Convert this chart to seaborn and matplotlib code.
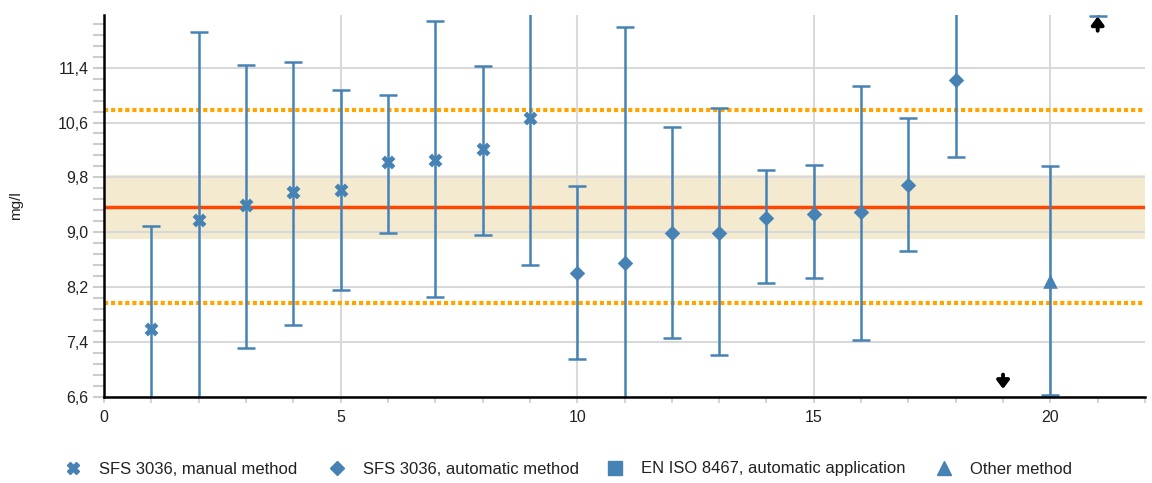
import numpy as np
import pandas as pd
import matplotlib
matplotlib.use("Agg")
import matplotlib.pyplot as plt
import seaborn as sns
from matplotlib.lines import Line2D
from matplotlib.ticker import MultipleLocator, FixedLocator

sns.set_theme(style="white")
plt.rcParams['font.family'] = ['Liberation Sans', 'DejaVu Sans']

# ---- data ----
lab_ids = [1, 2, 3, 4, 5, 6, 7, 8, 9, 10, 11, 12, 13, 14, 15, 16, 17, 18, 20]
values = [7.59, 9.17, 9.39, 9.59, 9.62, 10.02, 10.06, 10.21, 10.66,
          8.41, 8.55, 8.98, 8.99, 9.20, 9.27, 9.30, 9.69, 11.22, 8.28]
lower = [6.0, 6.0, 7.31, 7.65, 8.16, 8.99, 8.06, 8.96, 8.52,
         7.15, 6.0, 7.46, 7.21, 8.26, 8.33, 7.43, 8.73, 10.10, 6.62]
upper = [9.09, 11.92, 11.44, 11.49, 11.07, 11.0, 12.08, 11.42, 12.6,
         9.68, 11.99, 10.53, 10.81, 9.90, 9.98, 11.13, 10.66, 12.6, 9.97]
methods = ["SFS 3036, manual method"] * 9 + ["SFS 3036, automatic method"] * 9 + ["Other method"]

# out-of-range results
below_ids = [19]
above_ids = [21]
above_lower = [12.16]

assigned_value = 9.37
band_half = 0.47
limit_half = 1.41

method_order = ["SFS 3036, manual method", "SFS 3036, automatic method",
                "EN ISO 8467, automatic application", "Other method"]
method_markers = {"SFS 3036, manual method": "X",
                  "SFS 3036, automatic method": "D",
                  "EN ISO 8467, automatic application": "s",
                  "Other method": "^"}
method_sizes = {"SFS 3036, manual method": 100,
                "SFS 3036, automatic method": 62,
                "EN ISO 8467, automatic application": 80,
                "Other method": 110}

color = "#4682b4"
ymin, ymax = 6.6, 12.17
FS = 11.5
W, H = 1152, 483

df = pd.DataFrame({"lab": lab_ids, "value": values, "low": lower,
                   "high": upper, "method": methods})

fig = plt.figure(figsize=(W / 100, H / 100), dpi=100)
ax = fig.add_axes([104 / W, 1 - 396.5 / H, (1145 - 104) / W, (396.5 - 15) / H])

# band and reference lines
ax.axhspan(assigned_value - band_half, assigned_value + band_half, color="#f3ead0", zorder=0.5, lw=0)
ax.axhline(assigned_value, color="#ff4500", lw=2.5, zorder=1)
for s in (-1, 1):
    ax.axhline(assigned_value + s * limit_half, color="#ffa500", lw=3,
               linestyle=(0, (1, 0.7)), zorder=1)

# error bars
ax.errorbar(df["lab"], df["value"],
            yerr=[df["value"] - df["low"], df["high"] - df["value"]],
            fmt="none", ecolor=color, elinewidth=1.8, capsize=6.5, capthick=1.8, zorder=2)
# error bar of the result above range (only its lower end is visible)
ax.errorbar(above_ids, [13.0], yerr=[[13.0 - above_lower[0]], [0]],
            fmt="none", ecolor=color, elinewidth=1.8, capsize=6.5, capthick=1.8, zorder=2)

# markers
for m in method_order:
    sub = df[df["method"] == m]
    if len(sub) == 0:
        continue
    sns.scatterplot(data=sub, x="lab", y="value", marker=method_markers[m],
                    color=color, s=method_sizes[m], edgecolor=color,
                    linewidth=0, legend=False, ax=ax, zorder=3)

# arrows for out-of-range results
astyle = dict(arrowstyle="-|>,head_width=0.3,head_length=0.4", color="black", lw=2.8,
              shrinkA=0, shrinkB=0)
for x in below_ids:
    ax.annotate("", xy=(x, 6.71), xytext=(x, 6.92), arrowprops=astyle)
for x in above_ids:
    ax.annotate("", xy=(x, 12.15), xytext=(x, 11.94), arrowprops=astyle)

ax.set_xlim(0, 22)
ax.set_ylim(ymin, ymax)
ax.xaxis.set_major_locator(FixedLocator([0, 5, 10, 15, 20]))
ax.xaxis.set_minor_locator(MultipleLocator(1))
ax.yaxis.set_major_locator(FixedLocator([6.6, 7.4, 8.2, 9.0, 9.8, 10.6, 11.4]))
ax.yaxis.set_minor_locator(FixedLocator(np.round(np.arange(6.6, 12.2, 0.16), 2)))
ax.set_yticklabels([f"{v:.1f}".replace(".", ",") for v in [6.6, 7.4, 8.2, 9.0, 9.8, 10.6, 11.4]])
ax.set_xticklabels(["0", "5", "10", "15", "20"])

ax.grid(True, which="major", color="#d9d9d9", lw=1.5, zorder=0)
ax.set_axisbelow(True)
ax.tick_params(axis="y", which="both", length=8, width=1.5, color="#cccccc",
               labelsize=FS, labelcolor="#222222", pad=3, left=True)
ax.tick_params(axis="x", which="both", length=4.5, width=1.2, color="#cccccc",
               labelsize=FS, labelcolor="#222222", pad=5, bottom=True)

for side in ("top", "right"):
    ax.spines[side].set_visible(False)
ax.spines["left"].set_color("black")
ax.spines["left"].set_linewidth(1.8)
ax.spines["bottom"].set_color("black")
ax.spines["bottom"].set_linewidth(1.8)
ax.set_xlabel("")
ax.set_ylabel("mg/l", fontsize=11, color="#222222", labelpad=25)

# legend: one entry per method, at the reference's positions
legend_marker_x = [73, 337, 615, 944]
legend_fs = 12
fs_px = legend_fs * 100 / 72
for m, mx in zip(method_order, legend_marker_x):
    h = Line2D([0], [0], marker=method_markers[m], color="none", markerfacecolor=color,
               markeredgecolor=color,
               markersize={"X": 8, "D": 7.5, "s": 10.5, "^": 9.5}[method_markers[m]],
               linestyle="none")
    anchor_x = mx - 0.5 * fs_px
    fig.legend([h], [m], loc="center left", bbox_to_anchor=(anchor_x / W, 1 - 469 / H),
               frameon=False, fontsize=legend_fs, handlelength=1.0,
               handletextpad=(26 - 0.5 * fs_px) / fs_px,
               borderpad=0, borderaxespad=0, labelcolor="#222222")

fig.savefig("out.png", dpi=100)
